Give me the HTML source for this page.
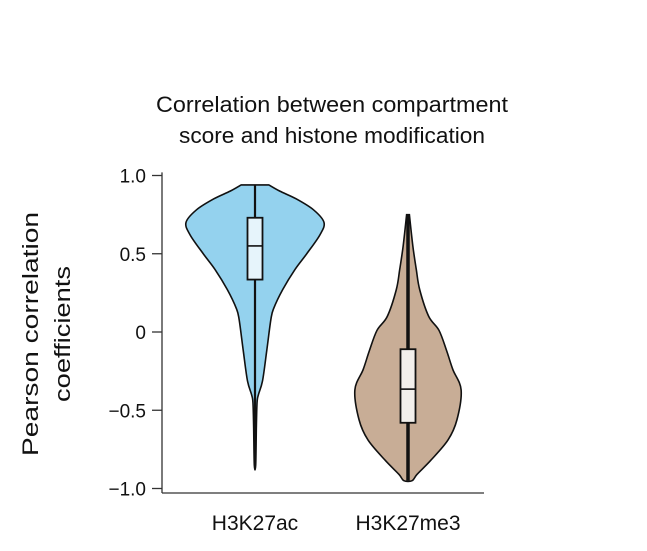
<!DOCTYPE html>
<html><head><meta charset="utf-8"><style>
body{margin:0;background:#fff;}
svg{display:block;font-family:"Liberation Sans",sans-serif;}
</style></head><body>
<svg id="chart" width="647" height="551" viewBox="0 0 647 551">
<g font-size="22" fill="#111" text-anchor="middle">
<text x="332" y="112" textLength="352" lengthAdjust="spacingAndGlyphs">Correlation between compartment</text>
<text x="332" y="143" textLength="306" lengthAdjust="spacingAndGlyphs">score and histone modification</text>
</g>
<g font-size="22" fill="#111" text-anchor="middle">
<text transform="translate(38,334) rotate(-90)" textLength="244" lengthAdjust="spacingAndGlyphs">Pearson correlation</text>
<text transform="translate(70,334) rotate(-90)" textLength="136" lengthAdjust="spacingAndGlyphs">coefficients</text>
</g>
<g id="axes"></g>
<g id="marks"></g>
</svg>
<script>
const categories = ["H3K27ac", "H3K27me3"];
const yTicks = [1.0, 0.5, 0, -0.5, -1.0];
const yTickLabels = ["1.0", "0.5", "0", "\u22120.5", "\u22121.0"];
const v1Values = [0.94, 0.9, 0.85, 0.78, 0.7, 0.62, 0.5, 0.4, 0.27, 0.15, 0.08, -0.12, -0.31, -0.4, -0.45, -0.6, -0.85];
const v1Density = [0.2, 0.36, 0.6, 0.85, 1.0, 0.94, 0.75, 0.58, 0.4, 0.27, 0.23, 0.17, 0.11, 0.05, 0.03, 0.02, 0.01];
const v2Values = [0.75, 0.55, 0.4, 0.27, 0.1, 0.01, -0.12, -0.24, -0.37, -0.56, -0.69, -0.82, -0.91, -0.95];
const v2Density = [0.02, 0.07, 0.12, 0.17, 0.3, 0.45, 0.56, 0.65, 0.77, 0.71, 0.58, 0.33, 0.13, 0.06];
const q1 = [0.335, -0.58];
const medians = [0.55, -0.365];
const q3 = [0.73, -0.11];
const whiskerLo = [-0.85, -0.95];
const whiskerHi = [0.94, 0.75];

const NS = "http://www.w3.org/2000/svg";
const y = v => 332 - v * 156.5;
const xC = i => 255 + i * 153;
const maxHalf = 69;
const colors = ["#94d2ee", "#c8ad96"];
const boxFill = ["#e6f4fb", "#f2efeb"];
function mk(tag, attrs, parent){const e=document.createElementNS(NS,tag);for(const k in attrs)e.setAttribute(k,attrs[k]);parent.appendChild(e);return e;}
const axes=document.getElementById('axes'), marks=document.getElementById('marks');
let yl=mk('line',{x1:162,y1:y(1.02),x2:162,y2:493,stroke:'#333','stroke-width':1.3},axes);


let xl=mk('line',{x1:162,y1:493,x2:484,y2:493,stroke:'#333','stroke-width':1.3},axes);


yTicks.forEach((t,i)=>{
  let tk=mk('line',{x1:152,y1:y(t),x2:162,y2:y(t),stroke:'#333','stroke-width':1.3},axes);
  
  
  let tl=mk('text',{x:146,y:y(t)+7,'font-size':19,'text-anchor':'end',fill:'#111'},axes);
  tl.textContent=yTickLabels[i];
  
  
});
categories.forEach((c,i)=>{
  let t=mk('text',{x:xC(i),y:530,'font-size':21,'text-anchor':'middle',fill:'#111'},axes);
  t.textContent=c;
  
  
});
function violinPath(vals,dens,cx){
  let pts=vals.map((v,k)=>[cx+dens[k]*maxHalf,y(v)]);
  let left=vals.map((v,k)=>[cx-dens[k]*maxHalf,y(v)]).reverse();
  let all=pts.concat(left);
  let d='M'+all[0][0]+','+all[0][1];
  for(let k=0;k<all.length-1;k++){
    const p0=all[Math.max(k-1,0)],p1=all[k],p2=all[k+1],p3=all[Math.min(k+2,all.length-1)];
    d+=' C'+(p1[0]+(p2[0]-p0[0])/6)+','+(p1[1]+(p2[1]-p0[1])/6)+' '+(p2[0]-(p3[0]-p1[0])/6)+','+(p2[1]-(p3[1]-p1[1])/6)+' '+p2[0]+','+p2[1];
  }
  return d+'Z';
}
[[v1Values,v1Density],[v2Values,v2Density]].forEach(([vals,dens],i)=>{
  const cx=xC(i);
  let p=mk('path',{d:violinPath(vals,dens,cx),fill:colors[i],stroke:'#111','stroke-width':1.6},marks);
  
  
  let w=mk('line',{x1:cx,y1:y(whiskerHi[i]),x2:cx,y2:y(whiskerLo[i]),stroke:'#111','stroke-width':i?3.5:2.2},marks);
  
  
  let b=mk('rect',{x:cx-7.5,y:y(q3[i]),width:15,height:y(q1[i])-y(q3[i]),fill:boxFill[i],stroke:'#111','stroke-width':1.8},marks);
  
  
  let m=mk('line',{x1:cx-7.5,y1:y(medians[i]),x2:cx+7.5,y2:y(medians[i]),stroke:'#111','stroke-width':1.6},marks);
  
  
});
</script>
</body></html>
